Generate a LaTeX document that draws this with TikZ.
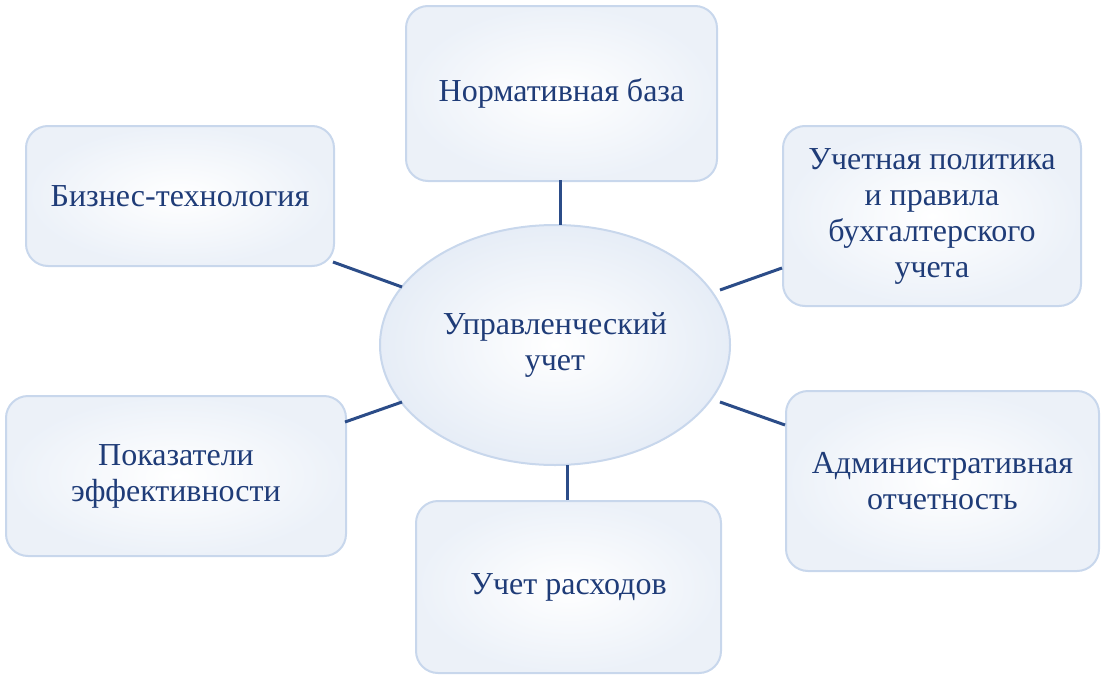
\documentclass[tikz,border=0pt]{standalone}
\usepackage{fontspec}
\setmainfont{Liberation Serif}
\usetikzlibrary{shapes.geometric,shadows}
\definecolor{txt}{HTML}{1F3C78}
\definecolor{edge}{HTML}{C8D7EC}
\definecolor{ln}{HTML}{2B4C88}
\tikzset{
 box/.style={draw=edge,line width=2pt,rounded corners=22pt,inner color=white,outer color=edge!35,
   font=\fontsize{32}{36}\selectfont,text=txt,align=center,anchor=north west},
 conn/.style={draw=ln,line width=3pt}
}
\begin{document}
\begin{tikzpicture}[x=1pt,y=-1pt]
\useasboundingbox (0,0) rectangle (1105,680);
\node[draw=edge,line width=2pt,ellipse,inner color=white,outer color=edge!45,minimum width=350pt,minimum height=240pt,
  font=\fontsize{32}{36}\selectfont,text=txt,align=center] (c) at (555,345) {Управленческий\\учет};
\node[box,minimum width=311pt,minimum height=175pt] (n) at (405,5) {Нормативная база};
\node[box,minimum width=308pt,minimum height=140pt] (b) at (25,125) {Бизнес-технология};
\node[box,minimum width=298pt,minimum height=180pt] (u) at (782,125) {Учетная политика\\и правила\\бухгалтерского\\учета};
\node[box,minimum width=340pt,minimum height=160pt] (p) at (5,395) {Показатели\\эффективности};
\node[box,minimum width=313pt,minimum height=180pt] (a) at (785,390) {Административная\\отчетность};
\node[box,minimum width=305pt,minimum height=172pt] (r) at (415,500) {Учет расходов};
\coordinate (n1) at (560,180); \coordinate (c1) at (560,225);
\draw[conn] (n1) -- (c1);
\coordinate (b1) at (333,262); \coordinate (c2) at (402,287);
\draw[conn] (b1) -- (c2);
\coordinate (u1) at (782,268); \coordinate (c3) at (720,290);
\draw[conn] (u1) -- (c3);
\coordinate (p1) at (345,422); \coordinate (c4) at (402,402);
\draw[conn] (p1) -- (c4);
\coordinate (a1) at (785,425); \coordinate (c5) at (720,402);
\draw[conn] (a1) -- (c5);
\coordinate (r1) at (567,500); \coordinate (c6) at (567,465);
\draw[conn] (r1) -- (c6);
\end{tikzpicture}
\end{document}
